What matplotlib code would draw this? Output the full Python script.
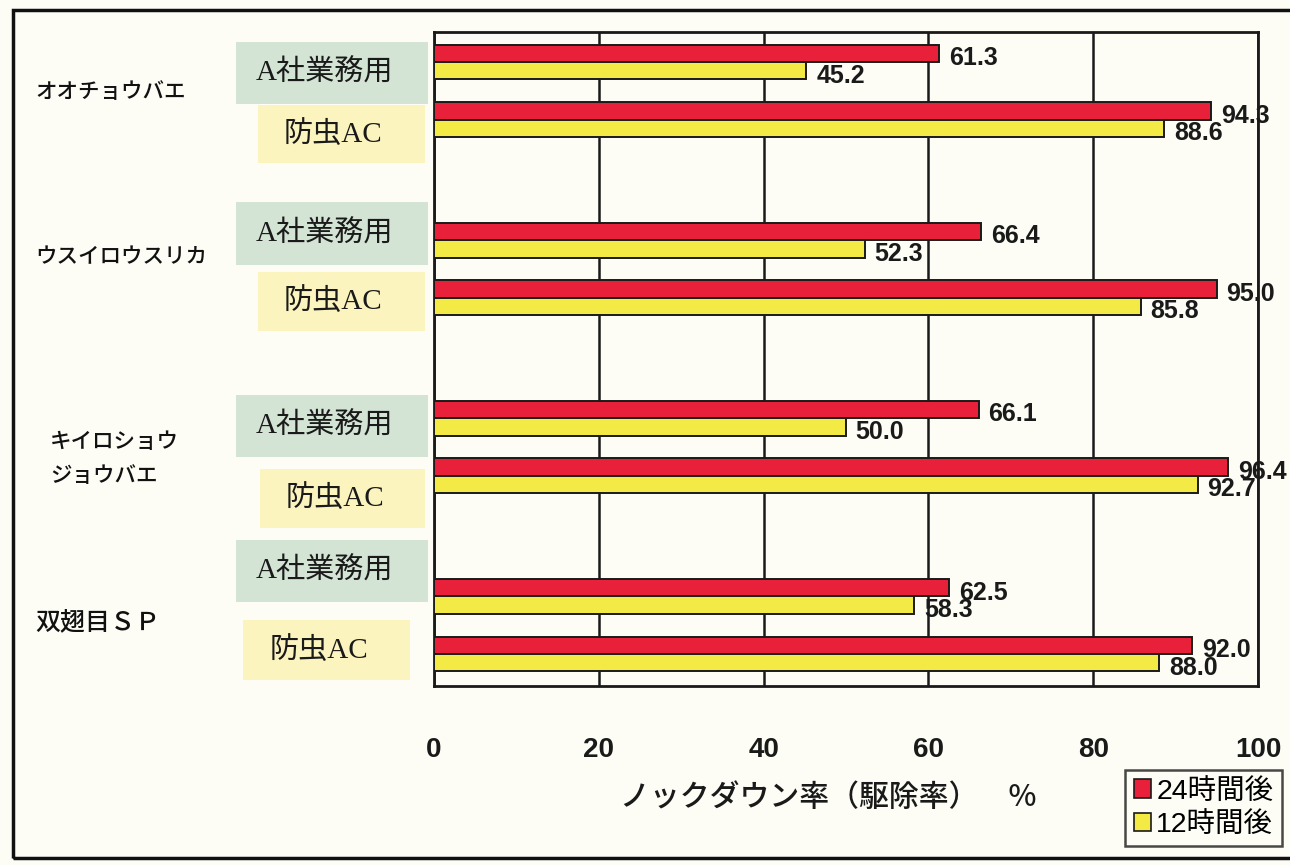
import matplotlib
matplotlib.use("Agg")
import matplotlib.pyplot as plt
from matplotlib.patches import Rectangle, Patch

# data
species = ["オオチョウバエ", "ウスイロウスリカ", "キイロショウ\nジョウバエ", "双翅目ＳＰ"]
products = ["A社業務用", "防虫AC"]
series = ["24時間後", "12時間後"]
# [species][product]
after24 = [[61.3, 94.3], [66.4, 95.0], [66.1, 96.4], [62.5, 92.0]]
after12 = [[45.2, 88.6], [52.3, 85.8], [50.0, 92.7], [58.3, 88.0]]
xticks = [0, 20, 40, 60, 80, 100]
xlabel = "ノックダウン率（駆除率）　%"

RED = "#e8203a"
YELLOW = "#f3ea45"
GREEN_BOX = "#d3e4d4"
YELLOW_BOX = "#fbf4bf"
BG = "#fdfdf6"
INK = "#1a1a1a"

JP = "Noto Sans CJK JP"
plt.rcParams["font.family"] = ["Liberation Sans", JP, "DejaVu Sans"]

W, H = 1290, 865
fig = plt.figure(figsize=(W / 100, H / 100), dpi=100, facecolor=BG)


def fx(px):
    return px / W


def fy(py):
    return 1 - py / H


# outer frame
fig.add_artist(Rectangle((fx(13), fy(858)), fx(1300) - fx(13), fy(10) - fy(858),
                         transform=fig.transFigure, fill=False,
                         edgecolor="#111111", linewidth=2.5))

ax = fig.add_axes([fx(434), fy(686), fx(1258) - fx(434), fy(32) - fy(686)])
ax.set_facecolor(BG)

GROUP_STEP = 1.0
SUB_STEP = 0.323
BAR_H = 0.098

for i in range(len(species)):
    for j in range(len(products)):
        yc = i * GROUP_STEP + j * SUB_STEP
        r = after24[i][j]
        y = after12[i][j]
        ax.barh(yc - BAR_H / 2, r, height=BAR_H, color=RED,
                edgecolor=INK, linewidth=1.4, zorder=3)
        ax.barh(yc + BAR_H / 2, y, height=BAR_H, color=YELLOW,
                edgecolor=INK, linewidth=1.4, zorder=3)
        for val, yy in ((r, yc - BAR_H / 2), (y, yc + BAR_H / 2)):
            ax.annotate(f"{val:.1f}", (val, yy), xytext=(7, -3.5),
                        textcoords="offset points", ha="left", va="center",
                        fontsize=18, fontweight="bold", color=INK,
                        annotation_clip=False, zorder=5)

ax.set_xlim(0, 100)
ax.set_ylim(3 * GROUP_STEP + SUB_STEP + 32 / 178, -30 / 178)
ax.set_yticks([])
ax.set_xticks(xticks)
ax.set_xticklabels([str(t) for t in xticks], fontsize=20, fontweight="bold")
ax.tick_params(axis="x", length=0, pad=37, colors=INK)
ax.grid(axis="x", color=INK, linewidth=1.8, zorder=1)
for s in ax.spines.values():
    s.set_linewidth(2)
    s.set_color(INK)

ax.set_xlabel(xlabel, fontsize=21.5, family=[JP], fontweight="medium", color=INK)
ax.xaxis.set_label_coords((828 - 434) / (1258 - 434), -(797 - 686) / (686 - 32))
ax.xaxis.label.set_va("center")

# product label boxes (figure pixels)
boxes = [
    [(236, 42, 428, 104), (258, 105, 425, 163)],
    [(236, 202, 428, 265), (258, 272, 425, 331)],
    [(236, 395, 428, 457), (260, 469, 425, 528)],
    [(236, 540, 428, 602), (243, 620, 410, 680)],
]
for i, grp in enumerate(boxes):
    for j, (x0, y0, x1, y1) in enumerate(grp):
        col = GREEN_BOX if j == 0 else YELLOW_BOX
        fig.add_artist(Rectangle((fx(x0), fy(y1)), fx(x1) - fx(x0), fy(y0) - fy(y1),
                                 transform=fig.transFigure, facecolor=col,
                                 edgecolor="none"))
        fig.text(fx((x0 + x1) / 2 - 8), fy((y0 + y1) / 2),
                 products[j], ha="center", va="center", fontsize=21,
                 family=["Liberation Serif", JP], color=INK)

# species labels
sp_pos = [(35, 92), (35, 257), (50, 459), (35, 622)]
sp_size = [15.5, 15.5, 15.5, 18]
for name, (px, py), fs in zip(species, sp_pos, sp_size):
    fig.text(fx(px), fy(py), name, ha="left", va="center", fontsize=fs,
             family=[JP], fontweight="medium", linespacing=1.65, color="#111111")

# legend
handles = [Patch(facecolor=RED, edgecolor=INK, linewidth=1.2),
           Patch(facecolor=YELLOW, edgecolor=INK, linewidth=1.2)]
leg = fig.legend(handles, series, loc="upper left",
                 bbox_to_anchor=(fx(1125), fy(770)), bbox_transform=fig.transFigure,
                 fontsize=20.5, frameon=True, fancybox=False, handlelength=0.6,
                 handleheight=0.6, handletextpad=0.2, borderpad=0.3,
                 labelspacing=0.25, borderaxespad=0)
leg.get_frame().set_edgecolor(INK)
leg.get_frame().set_linewidth(1.8)
leg.get_frame().set_facecolor(BG)

fig.savefig("out.png", dpi=100, facecolor=BG)
